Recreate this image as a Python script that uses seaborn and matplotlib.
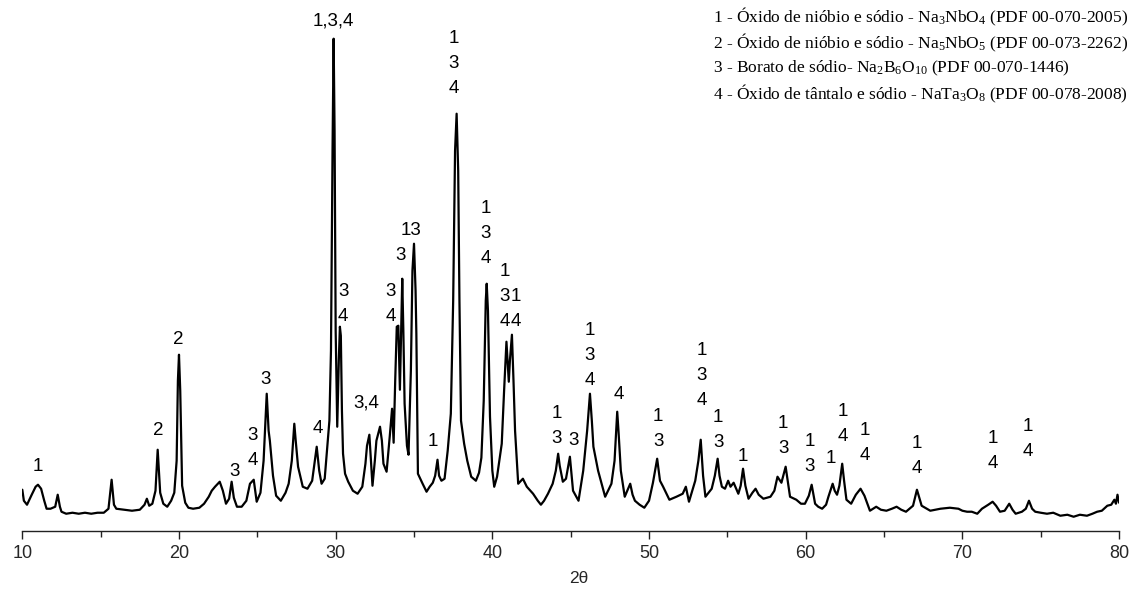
import matplotlib
matplotlib.use("Agg")
import matplotlib.pyplot as plt
from matplotlib.ticker import MultipleLocator
import pandas as pd
import seaborn as sns

# Diffractogram: 2-theta (degrees) and intensity (a.u.)
two_theta = [
    10.0, 10.1, 10.3, 10.6, 10.85, 11.0, 11.2, 11.4, 11.55, 11.8, 12.1, 12.26, 12.4, 12.5,
    12.8, 13.2, 13.6, 14.0, 14.4, 14.8, 15.2, 15.5, 15.7, 15.85, 16.0, 16.5, 17.0, 17.5,
    17.8, 17.95, 18.1, 18.3, 18.5, 18.64, 18.8, 19.0, 19.25, 19.5, 19.7, 19.85, 19.93, 20.0,
    20.08, 20.2, 20.4, 20.6, 20.9, 21.3, 21.6, 21.9, 22.09, 22.3, 22.6, 22.8, 23.0, 23.2,
    23.36, 23.5, 23.7, 24.0, 24.3, 24.53, 24.77, 24.96, 25.2, 25.4, 25.6, 25.72, 25.8, 26.0,
    26.2, 26.5, 26.8, 27.0, 27.2, 27.36, 27.45, 27.6, 27.9, 28.2, 28.5, 28.79, 28.95, 29.1,
    29.3, 29.5, 29.6, 29.7, 29.8, 29.87, 29.93, 30.0, 30.1, 30.2, 30.27, 30.33, 30.4, 30.47,
    30.6, 30.8, 31.1, 31.4, 31.7, 31.9, 32.0, 32.15, 32.25, 32.35, 32.5, 32.6, 32.83, 32.95,
    33.05, 33.25, 33.45, 33.6, 33.7, 33.8, 33.9, 34.0, 34.1, 34.18, 34.25, 34.32, 34.4, 34.55,
    34.65, 34.8, 34.9, 35.0, 35.1, 35.15, 35.25, 35.55, 35.8, 36.0, 36.2, 36.35, 36.5, 36.6,
    36.75, 36.95, 37.15, 37.35, 37.5, 37.62, 37.72, 37.82, 37.9, 38.0, 38.2, 38.4, 38.65, 38.95,
    39.15, 39.3, 39.45, 39.58, 39.64, 39.72, 39.85, 40.0, 40.12, 40.3, 40.6, 40.75, 40.9, 41.05,
    41.12, 41.25, 41.35, 41.45, 41.65, 41.95, 42.2, 42.6, 42.9, 43.1, 43.3, 43.55, 43.85, 44.05,
    44.2, 44.3, 44.5, 44.7, 44.95, 45.15, 45.5, 45.8, 46.05, 46.23, 46.35, 46.45, 46.75, 47.2,
    47.6, 47.8, 47.97, 48.05, 48.2, 48.45, 48.8, 48.95, 49.1, 49.4, 49.7, 50.0, 50.25, 50.52,
    50.7, 50.9, 51.3, 51.75, 52.15, 52.35, 52.55, 52.95, 53.15, 53.3, 53.45, 53.6, 54.0, 54.2,
    54.38, 54.5, 54.65, 54.85, 55.05, 55.2, 55.4, 55.7, 55.85, 56.0, 56.15, 56.35, 56.6, 56.8,
    57.0, 57.3, 57.75, 58.0, 58.2, 58.45, 58.72, 58.85, 59.0, 59.4, 59.7, 59.95, 60.2, 60.38,
    60.6, 60.8, 61.05, 61.3, 61.45, 61.72, 61.85, 62.0, 62.15, 62.33, 62.45, 62.6, 62.9, 63.2,
    63.5, 63.75, 64.1, 64.5, 64.8, 65.15, 65.5, 65.8, 66.1, 66.4, 66.85, 67.1, 67.4, 67.95,
    68.6, 69.2, 69.75, 70.0, 70.3, 70.6, 70.95, 71.25, 71.65, 71.93, 72.15, 72.4, 72.7, 72.99,
    73.2, 73.4, 73.8, 74.05, 74.25, 74.45, 74.65, 75.0, 75.4, 75.8, 76.25, 76.7, 77.1, 77.5,
    77.95, 78.3, 78.6, 78.9, 79.25, 79.5, 79.7, 79.8, 79.9, 80.0,
]
intensity = [
    41, 30, 26, 36, 44, 46, 42, 30, 22, 22, 24, 36, 24, 19,
    17, 18, 17, 18, 17, 18, 18, 22, 51, 26, 22, 21, 20, 21,
    26, 32, 25, 27, 40, 81, 38, 27, 24, 30, 38, 70, 150, 176,
    140, 45, 28, 23, 22, 23, 27, 34, 40, 44, 49, 40, 27, 32,
    49, 33, 24, 24, 30, 47, 51, 29, 38, 70, 137, 100, 90, 55,
    35, 30, 38, 47, 70, 107, 90, 64, 44, 42, 50, 84, 60, 47,
    52, 90, 110, 180, 380, 492, 400, 200, 104, 170, 204, 195, 120, 77,
    57, 49, 40, 37, 44, 67, 85, 96, 70, 45, 70, 90, 104, 90,
    67, 59, 94, 122, 88, 150, 204, 205, 141, 200, 252, 200, 127, 85,
    76, 160, 260, 287, 240, 197, 57, 47, 39, 44, 48, 55, 71, 55,
    50, 52, 80, 117, 230, 380, 417, 360, 230, 110, 87, 70, 54, 50,
    58, 73, 130, 230, 247, 220, 114, 60, 44, 54, 87, 140, 189, 149,
    170, 196, 150, 100, 47, 52, 44, 37, 30, 26, 30, 37, 47, 60,
    77, 65, 49, 52, 74, 40, 30, 60, 100, 137, 110, 84, 60, 34,
    47, 70, 119, 100, 60, 34, 47, 36, 30, 26, 23, 30, 48, 72,
    50, 44, 31, 34, 37, 44, 29, 50, 70, 91, 55, 34, 42, 55,
    72, 55, 44, 42, 50, 44, 48, 37, 45, 62, 45, 32, 38, 42,
    36, 32, 34, 40, 54, 48, 64, 50, 34, 31, 27, 27, 35, 46,
    27, 24, 22, 26, 34, 47, 40, 36, 45, 67, 50, 31, 27, 36,
    42, 35, 20, 24, 21, 20, 22, 24, 21, 19, 25, 41, 25, 20,
    22, 23, 22, 20, 19, 19, 17, 22, 26, 29, 25, 19, 20, 27,
    21, 17, 19, 22, 30, 22, 19, 18, 17, 18, 15, 16, 14, 16,
    15, 17, 19, 20, 25, 26, 31, 27, 36, 28,
]

# Phase identification labels: position of the top line (2-theta, intensity) and text
label_theta = [11.0, 18.68, 19.96, 23.53, 24.68, 25.53, 28.89, 29.85, 30.48, 31.93,
               33.53, 34.17, 34.79, 36.23, 37.55, 39.59, 40.80, 41.50, 44.10, 45.16,
               46.23, 48.10, 50.59, 53.36, 54.42, 56.01, 58.56, 60.26, 61.60, 62.38,
               63.76, 67.10, 71.93, 74.20]
label_int = [64.7, 100.7, 191.4, 59.0, 95.7, 151.4, 102.4, 510.0, 239.0, 128.0,
             239.0, 275.7, 300.7, 89.0, 492.4, 322.7, 259.0, 234.0, 117.7, 90.7,
             200.7, 136.7, 114.0, 180.7, 113.0, 74.0, 107.4, 89.0, 72.4, 119.0,
             100.7, 87.4, 92.4, 104.0]
label_text = ["1", "2", "2", "3", "3\n4", "3", "4", "1,3,4", "3\n4", "3,4",
              "3\n4", "3", "13", "1", "1\n3\n4", "1\n3\n4", "1\n3\n4", "1\n4", "1\n3", "3",
              "1\n3\n4", "4", "1\n3", "1\n3\n4", "1\n3", "1", "1\n3", "1\n3", "1", "1\n4",
              "1\n4", "1\n4", "1\n4", "1\n4"]

phase_lines = [
    r"1 - Óxido de nióbio e sódio - Na$_\mathrm{3}$NbO$_\mathrm{4}$ (PDF 00-070-2005)",
    r"2 - Óxido de nióbio e sódio - Na$_\mathrm{5}$NbO$_\mathrm{5}$ (PDF 00-073-2262)",
    r"3 - Borato de sódio- Na$_\mathrm{2}$B$_\mathrm{6}$O$_\mathrm{10}$ (PDF 00-070-1446)",
    r"4 - Óxido de tântalo e sódio - NaTa$_\mathrm{3}$O$_\mathrm{8}$ (PDF 00-078-2008)",
]

x_ticks = [10, 20, 30, 40, 50, 60, 70, 80]

sns.set_style("white")
plt.rcParams["font.family"] = ["Liberation Sans", "DejaVu Sans"]
plt.rcParams["mathtext.fontset"] = "custom"
plt.rcParams["mathtext.rm"] = "Liberation Serif"
plt.rcParams["mathtext.it"] = "Liberation Serif:italic"
plt.rcParams["mathtext.bf"] = "Liberation Serif:bold"

fig = plt.figure(figsize=(11.44, 5.97), dpi=100)
ax = fig.add_axes([0.0195, 0.111, 0.9587, 0.889])

df = pd.DataFrame({"two_theta": two_theta, "intensity": intensity})
sns.lineplot(data=df, x="two_theta", y="intensity", ax=ax, color="black",
             linewidth=1.6, estimator=None, sort=False)

ax.set_xlim(10, 80)
ax.set_ylim(0, 530.7)
ax.set_yticks([])
ax.set_ylabel("")
ax.set_xticks(x_ticks)
ax.set_xticklabels([str(t) for t in x_ticks])
ax.xaxis.set_minor_locator(MultipleLocator(5))
for side in ("left", "right", "top"):
    ax.spines[side].set_visible(False)
ax.spines["bottom"].set_color("#222222")
ax.spines["bottom"].set_linewidth(1.0)
ax.tick_params(axis="x", which="major", direction="out", length=6, width=1.0,
               color="#222222", labelsize=13, pad=4, bottom=True)
ax.tick_params(axis="x", which="minor", direction="out", length=4, width=1.0,
               color="#222222", bottom=True)
ax.set_xlabel("2θ", fontsize=12.5)
ax.xaxis.set_label_coords(0.5076, -0.075)

# Stacked phase labels, one line every 25 px
for tx, ty, txt in zip(label_theta, label_int, label_text):
    for k, line in enumerate(txt.split("\n")):
        ax.annotate(line, xy=(tx, ty), xytext=(0, -k * 18.0), textcoords="offset points",
                    ha="center", va="center", fontsize=13.5, color="black",
                    annotation_clip=False)

# Phase key in the upper right corner
for k, line in enumerate(phase_lines):
    fig.text(713 / 1144, 1 - (17 + k * 25.5) / 597, line, ha="left", va="center",
             fontsize=12.5, family=["Liberation Serif"], color="black")

fig.savefig("out.png", dpi=100)
